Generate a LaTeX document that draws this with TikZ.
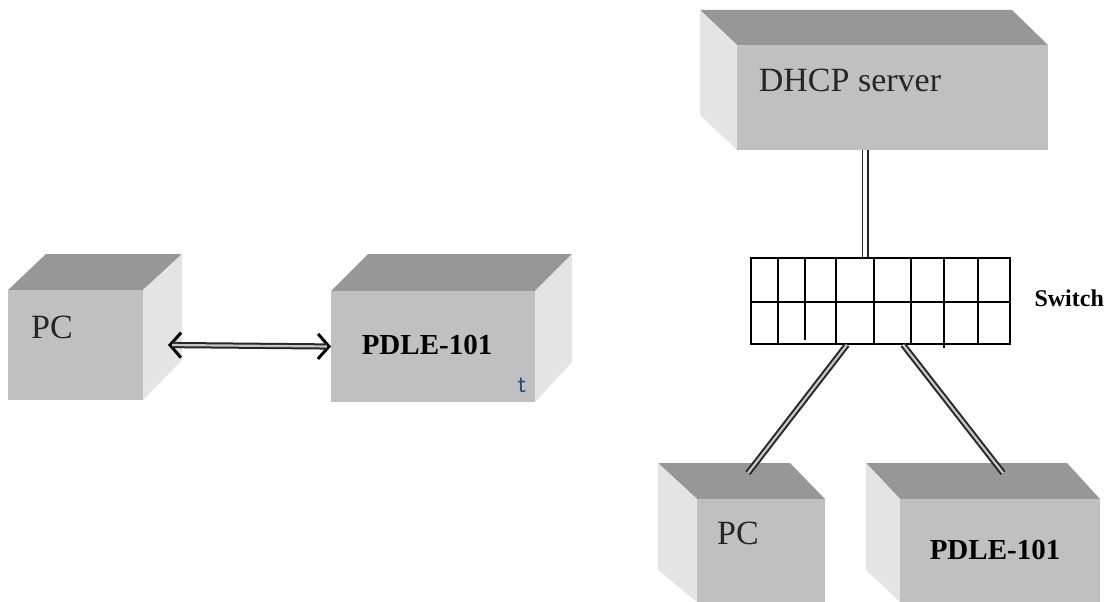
\documentclass[tikz,border=0pt]{standalone}
\usepackage{fontspec}
\setmainfont{Liberation Serif}
\usepackage{tikz}
\usetikzlibrary{arrows.meta}

\definecolor{frontgray}{HTML}{C0C0C0}
\definecolor{topgray}{HTML}{979797}
\definecolor{sidegray}{HTML}{E4E4E4}
\definecolor{strayblue}{HTML}{1F4E79}

\tikzset{
  front/.style={fill=frontgray, inner sep=0pt, outer sep=0pt},
  topface/.style={fill=topgray},
  sideface/.style={fill=sidegray},
  lbl/.style={font=\fontsize{34}{38}\selectfont, text=black!85},
  boldlbl/.style={font=\bfseries\fontsize{29}{33}\selectfont},
  cable/.style={double=gray!45, double distance=2.2pt, line width=2pt, black!85},
  barbs/.style={line width=3pt, black,
    {Straight Barb[length=11pt, width=25pt]}-{Straight Barb[length=11pt, width=25pt]}},
  grid/.style={line width=1.4pt, black}
}

\begin{document}
\begin{tikzpicture}[x=1pt,y=-1pt]

\useasboundingbox (0,0) rectangle (1117,602);

		% left: PC
		\fill[topface] (8,290)--(46,254)--(182,254)--(143,290)--cycle;
		\fill[sideface] (143,290)--(182,254)--(182,360)--(143,400)--cycle;
		\node[front, minimum width=135, minimum height=110] (pc1) at (75.5,345) {};
		\node[lbl] (pc1txt) at (52,327) {PC};

		% left: PDLE-101
		\fill[topface] (331,291)--(368,254)--(572,254)--(535,291)--cycle;
		\fill[sideface] (535,291)--(572,254)--(572,362)--(535,402)--cycle;
		\node[front, minimum width=204, minimum height=111] (pdle1) at (433,346.5) {};
		\node[boldlbl] (pdle1txt) at (427,345) {PDLE-101};
		\node[text=strayblue, font=\sffamily\fontsize{26}{28}\selectfont] (stray) at (522,385) {t};

		\draw[barbs] ([xshift=25pt]pc1.east) -- (pdle1.west);
		\draw[cable, shorten <=4pt, shorten >=4pt] ([xshift=25pt]pc1.east) -- (pdle1.west);

		% right: DHCP server
		\fill[topface] (700,10)--(1012,10)--(1048,45)--(737,45)--cycle;
		\fill[sideface] (700,10)--(737,45)--(737,150)--(700,115)--cycle;
		\node[front, minimum width=311, minimum height=105] (dhcp) at (892.5,97.5) {};
		\node[lbl] (dhcptxt) at (850,80) {DHCP server};

		% switch
		\node[draw, grid, inner sep=0pt, minimum width=259, minimum height=86] (sw) at (880.5,301) {};
		\draw[grid] (sw.west |- 0,302) -- (sw.east |- 0,302);
		\foreach \c in {778,836,874,911,978}
			\draw[grid] (sw.north -| \c,0) -- (sw.south -| \c,0);
		\draw[grid] (sw.north -| 805,0) -- (805,340);
		\draw[grid] (sw.north -| 944,0) -- (944,348);
		\node[font=\bfseries\fontsize{24}{28}\selectfont, anchor=west] (swtxt) at (1031,298) {Switch};

		\draw[cable, double=white, double distance=4pt, line width=1.5pt] (dhcp.south -| 865,0) -- (sw.north -| 865,0);

		% bottom: PC
		\fill[topface] (658,463)--(790,463)--(825,499)--(697,499)--cycle;
		\fill[sideface] (658,463)--(697,499)--(697,602)--(658,570)--cycle;
		\node[front, minimum width=128, minimum height=103] (pc2) at (761,550.5) {};
		\node[lbl] (pc2txt) at (738,533) {PC};
		\coordinate (pc2top) at (748,473);

		% bottom: PDLE-101
		\fill[topface] (866,463)--(1067,463)--(1100,499)--(900,499)--cycle;
		\fill[sideface] (866,463)--(900,499)--(900,602)--(866,570)--cycle;
		\node[front, minimum width=200, minimum height=103] (pdle2) at (1000,550.5) {};
		\node[boldlbl] (pdle2txt) at (995,550) {PDLE-101};
		\coordinate (pdle2top) at (1003,473);

		\draw[cable] (sw.south -| 847,0) -- (pc2top);
		\draw[cable] (sw.south -| 903,0) -- (pdle2top);

\end{tikzpicture}
\end{document}
